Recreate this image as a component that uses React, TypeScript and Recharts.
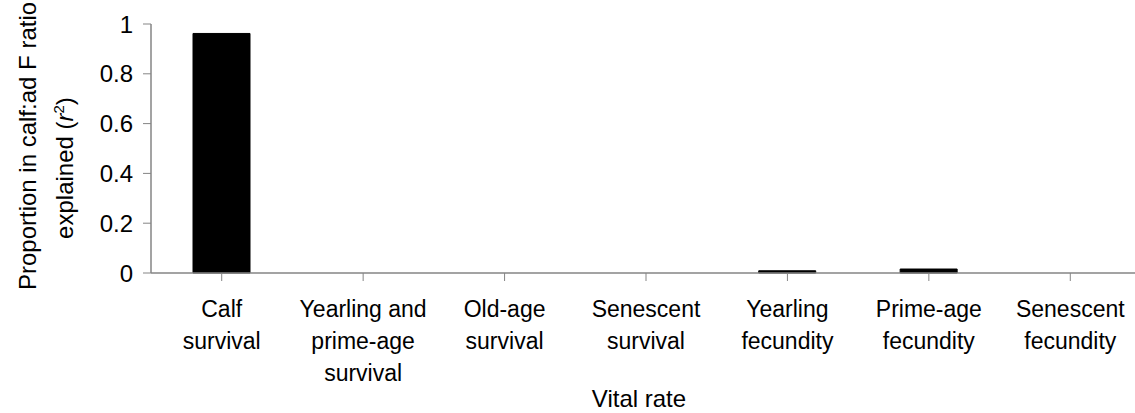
import { BarChart, Bar, XAxis, YAxis, Label } from 'recharts';

const vitalRates = [
  'Calf\nsurvival',
  'Yearling and\nprime-age\nsurvival',
  'Old-age\nsurvival',
  'Senescent\nsurvival',
  'Yearling\nfecundity',
  'Prime-age\nfecundity',
  'Senescent\nfecundity',
];
const rSquared = [0.962, 0, 0, 0, 0.009, 0.016, 0];
const yTicks = [0, 0.2, 0.4, 0.6, 0.8, 1];

const font = '"Liberation Sans", Arial, Helvetica, sans-serif';
const axisGrey = '#858585';

const data = vitalRates.map((name, i) => ({ name, value: rSquared[i] }));

function CategoryTick({ x, y, payload }: any) {
  const lines = String(payload.value).split('\n');
  return (
    <text x={x} y={y} textAnchor="middle" fontFamily={font} fontSize={23} fill="#000">
      {lines.map((ln, i) => (
        <tspan key={i} x={x} y={y + 34 + i * 32}>
          {ln}
        </tspan>
      ))}
    </text>
  );
}

function YTitle() {
  return (
    <g fontFamily={font} fontSize={24} fill="#000">
      <text x={36} y={146} textAnchor="middle" transform="rotate(-90 36 146)">
        Proportion in calf:ad F ratio
      </text>
      <text x={73} y={168} textAnchor="middle" transform="rotate(-90 73 168)">
        explained (<tspan fontStyle="italic">r</tspan>
        <tspan fontSize={15} dy={-9}>2</tspan>
        <tspan dy={9}>)</tspan>
      </text>
    </g>
  );
}

function XTitle() {
  return (
    <text x={639} y={407} textAnchor="middle" fontFamily={font} fontSize={24} fill="#000">
      Vital rate
    </text>
  );
}

export default function App() {
  return (
    <div
      style={{
        position: 'absolute',
        left: 0,
        top: 0,
        width: 1135,
        height: 413,
        overflow: 'hidden',
        background: '#fff',
      }}
    >
      <BarChart
        width={1150}
        height={413}
        data={data}
        margin={{ top: 24, right: 9, bottom: 0, left: 0 }}
      >
        <XAxis
          dataKey="name"
          interval={0}
          height={140}
          tick={<CategoryTick />}
          tickSize={8}
          tickLine={{ stroke: axisGrey }}
          axisLine={{ stroke: axisGrey, strokeWidth: 1.5 }}
        >
          <Label content={<XTitle />} />
        </XAxis>
        <YAxis
          width={151}
          domain={[0, 1]}
          ticks={yTicks}
          tickSize={8}
          tickMargin={10}
          tick={{ fontFamily: font, fontSize: 24, fill: '#000' }}
          tickLine={{ stroke: axisGrey }}
          axisLine={{ stroke: axisGrey, strokeWidth: 1.5 }}
        >
          <Label content={<YTitle />} />
        </YAxis>
        <Bar dataKey="value" fill="#000" stroke="#000" barSize={57} isAnimationActive={false} />
      </BarChart>
    </div>
  );
}
